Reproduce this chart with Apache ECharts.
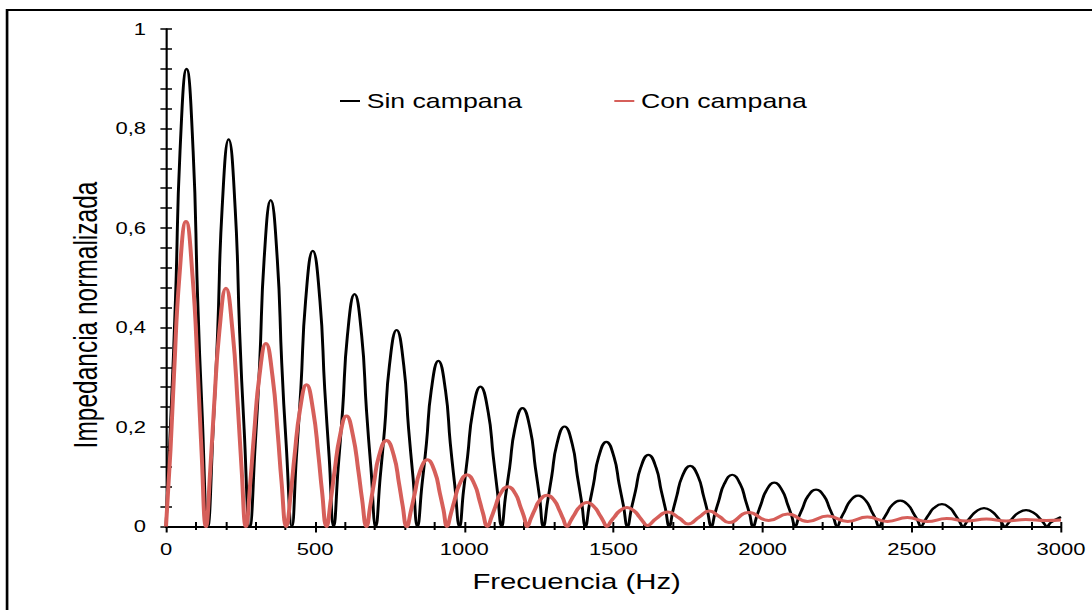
<!DOCTYPE html>
<html>
<head>
<meta charset="utf-8">
<script src="https://cdn.jsdelivr.net/npm/echarts@6.0.0/dist/echarts.min.js"></script>
<style>
  html, body { margin: 0; padding: 0; background: #fff; overflow: hidden; }
  /* The figure is laid out on a narrower canvas and widened horizontally. */
  #chart { width: 819px; height: 610px; transform: scaleX(1.3333); transform-origin: 0 0; }
</style>
</head>
<body>
<div id="chart"></div>
<script>
// Normalized impedance vs. frequency, [Hz, value]
const nombresSeries = ['Sin campana', 'Con campana'];

const sinCampana = [
  [0, 0],
  [17, 0.23], [32, 0.46], [47, 0.754], [69, 0.920], [91, 0.754], [106, 0.46], [121, 0.23], [140, 0],
  [158, 0.195], [173, 0.389], [188, 0.638], [210, 0.778], [232, 0.638], [247, 0.389], [262, 0.195], [281, 0],
  [299, 0.164], [314, 0.328], [329, 0.538], [351, 0.656], [373, 0.538], [388, 0.328], [403, 0.164], [422, 0],
  [437, 0.139], [452, 0.277], [468, 0.454], [492, 0.554], [516, 0.454], [532, 0.277], [547, 0.139], [562, 0],
  [577, 0.117], [592, 0.234], [608, 0.383], [632, 0.467], [656, 0.383], [672, 0.234], [687, 0.117], [703, 0],
  [718, 0.099], [733, 0.198], [749, 0.324], [773, 0.395], [797, 0.324], [813, 0.198], [828, 0.099], [843, 0],
  [858, 0.083], [873, 0.167], [889, 0.273], [913, 0.333], [937, 0.273], [953, 0.167], [968, 0.083], [984, 0],
  [997, 0.070], [1011, 0.141], [1028, 0.230], [1054, 0.281], [1080, 0.230], [1097, 0.141], [1111, 0.070], [1125, 0],
  [1138, 0.060], [1152, 0.119], [1169, 0.195], [1195, 0.238], [1221, 0.195], [1238, 0.119], [1252, 0.060], [1265, 0],
  [1279, 0.050], [1293, 0.101], [1310, 0.165], [1336, 0.201], [1362, 0.165], [1379, 0.101], [1393, 0.050], [1406, 0],
  [1419, 0.043], [1433, 0.085], [1450, 0.139], [1476, 0.170], [1502, 0.139], [1519, 0.085], [1533, 0.043], [1547, 0],
  [1560, 0.036], [1574, 0.072], [1591, 0.118], [1617, 0.144], [1643, 0.118], [1660, 0.072], [1674, 0.036], [1687, 0],
  [1699, 0.031], [1712, 0.061], [1730, 0.100], [1757, 0.122], [1784, 0.100], [1802, 0.061], [1815, 0.031], [1828, 0],
  [1840, 0.026], [1853, 0.052], [1871, 0.085], [1898, 0.104], [1925, 0.085], [1943, 0.052], [1956, 0.026], [1968, 0],
  [1981, 0.022], [1994, 0.044], [2012, 0.072], [2039, 0.088], [2066, 0.072], [2084, 0.044], [2097, 0.022], [2109, 0],
  [2121, 0.019], [2134, 0.037], [2152, 0.061], [2179, 0.074], [2206, 0.061], [2224, 0.037], [2237, 0.019], [2250, 0],
  [2262, 0.016], [2275, 0.031], [2293, 0.051], [2320, 0.062], [2347, 0.051], [2365, 0.031], [2378, 0.016], [2390, 0],
  [2403, 0.013], [2416, 0.026], [2434, 0.043], [2461, 0.052], [2488, 0.043], [2506, 0.026], [2519, 0.013], [2531, 0],
  [2543, 0.011], [2556, 0.023], [2574, 0.037], [2601, 0.045], [2628, 0.037], [2646, 0.023], [2659, 0.011], [2672, 0],
  [2684, 0.009], [2697, 0.019], [2715, 0.030], [2742, 0.037], [2769, 0.030], [2787, 0.019], [2800, 0.009], [2812, 0],
  [2825, 0.008], [2838, 0.017], [2856, 0.027], [2883, 0.033], [2910, 0.027], [2928, 0.017], [2941, 0.008], [2953, 0],
  [2966, 0.008], [3000, 0.019]
];

const conCampana = [
  [0, 0],
  [15, 0.153], [27, 0.307], [45, 0.503], [67, 0.613], [89, 0.503], [107, 0.307], [119, 0.153], [134, 0],
  [149, 0.120], [161, 0.240], [179, 0.393], [201, 0.479], [223, 0.393], [241, 0.240], [253, 0.120], [268, 0],
  [283, 0.092], [295, 0.184], [313, 0.302], [335, 0.368], [357, 0.302], [375, 0.184], [387, 0.092], [403, 0],
  [419, 0.071], [431, 0.143], [449, 0.234], [471, 0.285], [493, 0.234], [511, 0.143], [523, 0.071], [538, 0],
  [553, 0.056], [565, 0.111], [583, 0.182], [605, 0.222], [627, 0.182], [645, 0.111], [657, 0.056], [672, 0],
  [685, 0.043], [697, 0.087], [714, 0.142], [739, 0.173], [764, 0.142], [781, 0.087], [793, 0.043], [807, 0],
  [822, 0.034], [834, 0.067], [851, 0.110], [876, 0.134], [901, 0.110], [918, 0.067], [930, 0.034], [942, 0],
  [955, 0.026], [967, 0.052], [984, 0.085], [1009, 0.104], [1034, 0.085], [1051, 0.052], [1063, 0.026], [1077, 0],
  [1092, 0.020], [1104, 0.040], [1121, 0.066], [1146, 0.080], [1171, 0.066], [1188, 0.040], [1200, 0.020], [1211, 0],
  [1223, 0.016], [1235, 0.032], [1252, 0.052], [1277, 0.063], [1302, 0.052], [1319, 0.032], [1331, 0.016], [1344, 0],
  [1357, 0.012], [1369, 0.024], [1386, 0.039], [1411, 0.048], [1436, 0.039], [1453, 0.024], [1465, 0.012], [1478, 0],
  [1491, 0.010], [1503, 0.019], [1520, 0.031], [1545, 0.038], [1570, 0.031], [1587, 0.019], [1599, 0.010], [1613, 0.002],
  [1643, 0.016], [1682, 0.029], [1720, 0.017], [1750, 0.005],
  [1787, 0.019], [1821, 0.031], [1855, 0.020], [1887, 0.008],
  [1953, 0.028], [2020, 0.012], [2084, 0.025], [2151, 0.010], [2218, 0.021], [2285, 0.010],
  [2351, 0.019], [2418, 0.010], [2485, 0.018], [2551, 0.010], [2617, 0.016], [2684, 0.011],
  [2750, 0.015], [2816, 0.011], [2882, 0.014], [2950, 0.012], [3000, 0.013]
];

const FONT = '"Liberation Sans", Arial, Helvetica, sans-serif';
const INK = '#000';
const ROJO = '#d65f5a';

const chart = echarts.init(document.getElementById('chart'), null, { renderer: 'svg' });

const tickStyle = { color: INK, width: 1.5 };

chart.setOption({
  animation: false,
  backgroundColor: '#fff',
  grid: { left: 124.5, right: 23.25, top: 29, bottom: 83.5, containLabel: false, outerBoundsMode: 'none' },
  legend: {
    data: nombresSeries,
    left: 250, top: 86,
    icon: 'rect', itemWidth: 15, itemHeight: 2, itemGap: 69,
    textStyle: { fontFamily: FONT, fontSize: 20, color: INK }
  },
  xAxis: [
    {
      type: 'value', min: 0, max: 3000, interval: 500,
      axisLine: { show: true, onZero: false, lineStyle: { color: INK, width: 1.8 } },
      axisTick: { show: true, inside: false, length: 6, lineStyle: tickStyle },
      minorTick: { show: true, splitNumber: 5, length: 3.5, lineStyle: tickStyle },
      splitLine: { show: false },
      axisLabel: { show: true, margin: 14, fontFamily: FONT, fontSize: 16.5, color: INK, formatter: v => String(v) }
    },
    {
      type: 'value', min: 0, max: 3000, interval: 100, position: 'bottom', offset: 0,
      axisLine: { show: false },
      axisTick: { show: true, inside: true, length: 4.5, lineStyle: tickStyle },
      splitLine: { show: false },
      axisLabel: { show: false }
    }
  ],
  yAxis: [
    {
      type: 'value', min: 0, max: 1, interval: 0.2, position: 'left', offset: 0,
      axisLine: { show: true, onZero: false, lineStyle: { color: INK, width: 1.6 } },
      axisTick: { show: true, inside: false, length: 4.2, lineStyle: tickStyle },
      minorTick: { show: true, splitNumber: 5, length: 4.2, lineStyle: tickStyle },
      splitLine: { show: false },
      axisLabel: {
        show: true, margin: 15, fontFamily: FONT, fontSize: 16.5, color: INK,
        formatter: v => (v === 0 || v === 1) ? String(v) : v.toFixed(1).replace('.', ',')
      }
    },
    {
      type: 'value', min: 0, max: 1, interval: 0.04, position: 'left', offset: 0,
      axisLine: { show: false },
      axisTick: { show: true, inside: true, length: 4.5, lineStyle: tickStyle },
      splitLine: { show: false },
      axisLabel: { show: false }
    }
  ],
  series: [
    {
      name: nombresSeries[0], type: 'line', data: sinCampana,
      xAxisIndex: 0, yAxisIndex: 0,
      smooth: 0.5, showSymbol: false, symbol: 'none',
      lineStyle: { color: INK, width: 2.2 }, itemStyle: { color: INK },
      z: 2
    },
    {
      name: nombresSeries[1], type: 'line', data: conCampana,
      xAxisIndex: 0, yAxisIndex: 0,
      smooth: 0.5, showSymbol: false, symbol: 'none',
      lineStyle: { color: ROJO, width: 3 }, itemStyle: { color: ROJO },
      z: 3
    }
  ],
  graphic: [
    {
      // outer frame (top and left edges)
      type: 'polyline', silent: true,
      shape: { points: [[5.3, 640], [5.3, 10], [840, 10]] },
      style: { stroke: INK, lineWidth: 2, fill: null }
    },
    {
      type: 'text', silent: true,
      x: 432.5, y: 581,
      style: { text: 'Frecuencia (Hz)', fontFamily: FONT, fontSize: 22, fill: INK, align: 'center', verticalAlign: 'middle' }
    },
    {
      type: 'text', silent: true,
      x: 64, y: 315, rotation: Math.PI / 2,
      style: { text: 'Impedancia normalizada', fontFamily: FONT, fontSize: 24.5, fill: INK, align: 'center', verticalAlign: 'middle' }
    }
  ]
});
</script>
</body>
</html>
